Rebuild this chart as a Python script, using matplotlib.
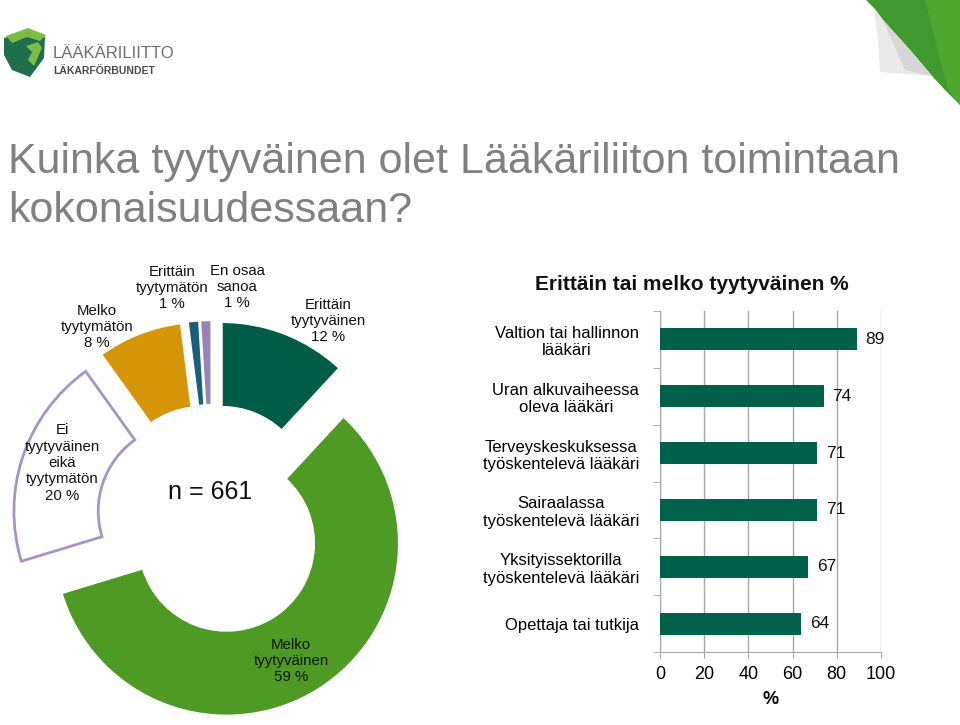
import numpy as np
import matplotlib
matplotlib.use("Agg")
import matplotlib.pyplot as plt
from matplotlib.patches import Polygon

plt.rcParams['font.family'] = ['Liberation Sans', 'DejaVu Sans']

# donitsi: vastausjakauma
slice_labels = ['Erittäin\ntyytyväinen\n12 %', 'Melko\ntyytyväinen\n59 %',
                'Ei\ntyytyväinen\neikä\ntyytymätön\n20 %', 'Melko\ntyytymätön\n8 %',
                'Erittäin\ntyytymätön\n1 %', 'En osaa\nsanoa\n1 %']
slice_values = [12, 59, 20, 8, 1, 1]
slice_colors = ['#005C47', '#4E9A24', '#FFFFFF', '#D6960A', '#17607A', '#9A82B8']

# palkit: erittäin tai melko tyytyväinen %
groups = ['Valtion tai hallinnon\nlääkäri', 'Uran alkuvaiheessa\noleva lääkäri',
          'Terveyskeskuksessa\ntyöskentelevä lääkäri', 'Sairaalassa\ntyöskentelevä lääkäri',
          'Yksityissektorilla\ntyöskentelevä lääkäri', 'Opettaja tai tutkija']
group_values = [89, 74, 71, 71, 67, 64]
x_ticks = [0, 20, 40, 60, 80, 100]

W, H = 960, 725
fig = plt.figure(figsize=(9.6, 7.25), dpi=100)

# tausta, logo ja kulma (pikselikoordinaatit)
bg = fig.add_axes([0, 0, 1, 1], zorder=0)
bg.set_xlim(0, W)
bg.set_ylim(H, 0)
bg.axis('off')
bg.add_patch(Polygon([(4, 38), (28, 31), (45, 37), (44, 58), (30, 77), (12, 70), (4, 55)],
                     closed=True, fc='#1F6E4E', ec='none'))
bg.add_patch(Polygon([(6, 36), (28, 28), (46, 35), (40, 41), (27, 37), (12, 43)],
                     closed=True, fc='#7DBB42', ec='none'))
bg.add_patch(Polygon([(26, 46), (38, 42), (42, 48), (34, 66), (28, 60), (32, 52)],
                     closed=True, fc='#7DBB42', ec='none'))
bg.text(53, 53, 'LÄÄKÄRILIITTO', fontsize=12, color='#6E6E6E', va='center', ha='left')
bg.text(53, 71, 'LÄKARFÖRBUNDET', fontsize=7.5, color='#4A4A4A', va='center', ha='left',
        fontweight='bold')
# sivun taitettu kulma
bg.add_patch(Polygon([(866, 0), (960, 0), (960, 105), (945, 90), (932, 76), (910, 50),
                      (883, 20), (874, 8)],
                     closed=True, fc='#3E9A2E', ec='none'))
bg.add_patch(Polygon([(925, 0), (960, 0), (960, 105), (948, 90)],
                     closed=True, fc='#5DB033', ec='none', alpha=0.6))
bg.add_patch(Polygon([(874, 8), (883, 20), (910, 50), (932, 76), (880, 72), (878, 40)],
                     closed=True, fc='#E9E9E9', ec='none'))
bg.add_patch(Polygon([(883, 20), (910, 50), (932, 76), (905, 70)],
                     closed=True, fc='#D6D6D6', ec='none'))

bg.text(8, 173, 'Kuinka tyytyväinen olet Lääkäriliiton toimintaan',
        fontsize=31, color='#808080', ha='left', va='baseline')
bg.text(8, 222, 'kokonaisuudessaan?',
        fontsize=31, color='#808080', ha='left', va='baseline')

# donitsi
cx, cy, R = 212, 520, 172
ax_pie = fig.add_axes([0, 0, 440 / W, 475 / H], zorder=1)
wedges, _ = ax_pie.pie(slice_values, colors=slice_colors, startangle=90, counterclock=False,
                       explode=[0.16] * len(slice_values), radius=1,
                       wedgeprops=dict(width=0.49, edgecolor='white', linewidth=1))
wedges[2].set_edgecolor('#A993C6')
wedges[2].set_linewidth(2)
ax_pie.set_aspect('auto')
ax_pie.set_xlim(-cx / R, (440 - cx) / R)
ax_pie.set_ylim(-(H - cy) / R, (cy - 250) / R)
ax_pie.axis('off')


def px(x, y):
    return (x - cx) / R, (cy - y) / R


label_pos = [(328, 321), (291, 661), (62, 463), (97, 327), (172, 288), (237, 287)]
for lab, (lx, ly) in zip(slice_labels, label_pos):
    ax_pie.text(*px(lx, ly), lab, ha='center', va='center', fontsize=10.8,
                color='#111111', linespacing=1.22)
ax_pie.text(*px(210, 492), 'n = 661', ha='center', va='center', fontsize=18, color='#111111')

# palkkikaavio
ax = fig.add_axes([660 / W, 73 / H, 221 / W, 341 / H], zorder=1)
y = np.arange(len(groups))
bars = ax.barh(y, group_values, height=0.39, color='#00604A', zorder=3)
ax.set_xlim(0, 100)
ax.set_ylim(len(groups) - 0.5, -0.5)
ax.set_xticks(x_ticks)
ax.set_yticks(y)
ax.set_yticklabels(groups, fontsize=12, multialignment='center')
ax.set_yticks(np.arange(len(groups) + 1) - 0.5, minor=True)
ax.tick_params(axis='y', which='major', length=0, pad=15)
ax.tick_params(axis='y', which='minor', length=5, color='#A6A6A6')
ax.tick_params(axis='x', length=4, color='#A6A6A6', labelsize=13, pad=6)
ax.grid(axis='x', color='#A6A6A6', linewidth=1, zorder=0)
for s in ['top', 'right']:
    ax.spines[s].set_visible(False)
for s in ['left', 'bottom']:
    ax.spines[s].set_color('#A6A6A6')
ax.set_xlabel('%', fontsize=13, fontweight='bold', labelpad=6)
for b, v in zip(bars, group_values):
    ax.text(v + 4, b.get_y() + b.get_height() / 2, str(v), va='center', ha='left',
            fontsize=12.5, color='#111111')

fig.text(692 / W, 1 - 284 / H, 'Erittäin tai melko tyytyväinen %', ha='center', va='center',
         fontsize=15, fontweight='bold', color='#111111')

fig.savefig('out.png', dpi=100)
